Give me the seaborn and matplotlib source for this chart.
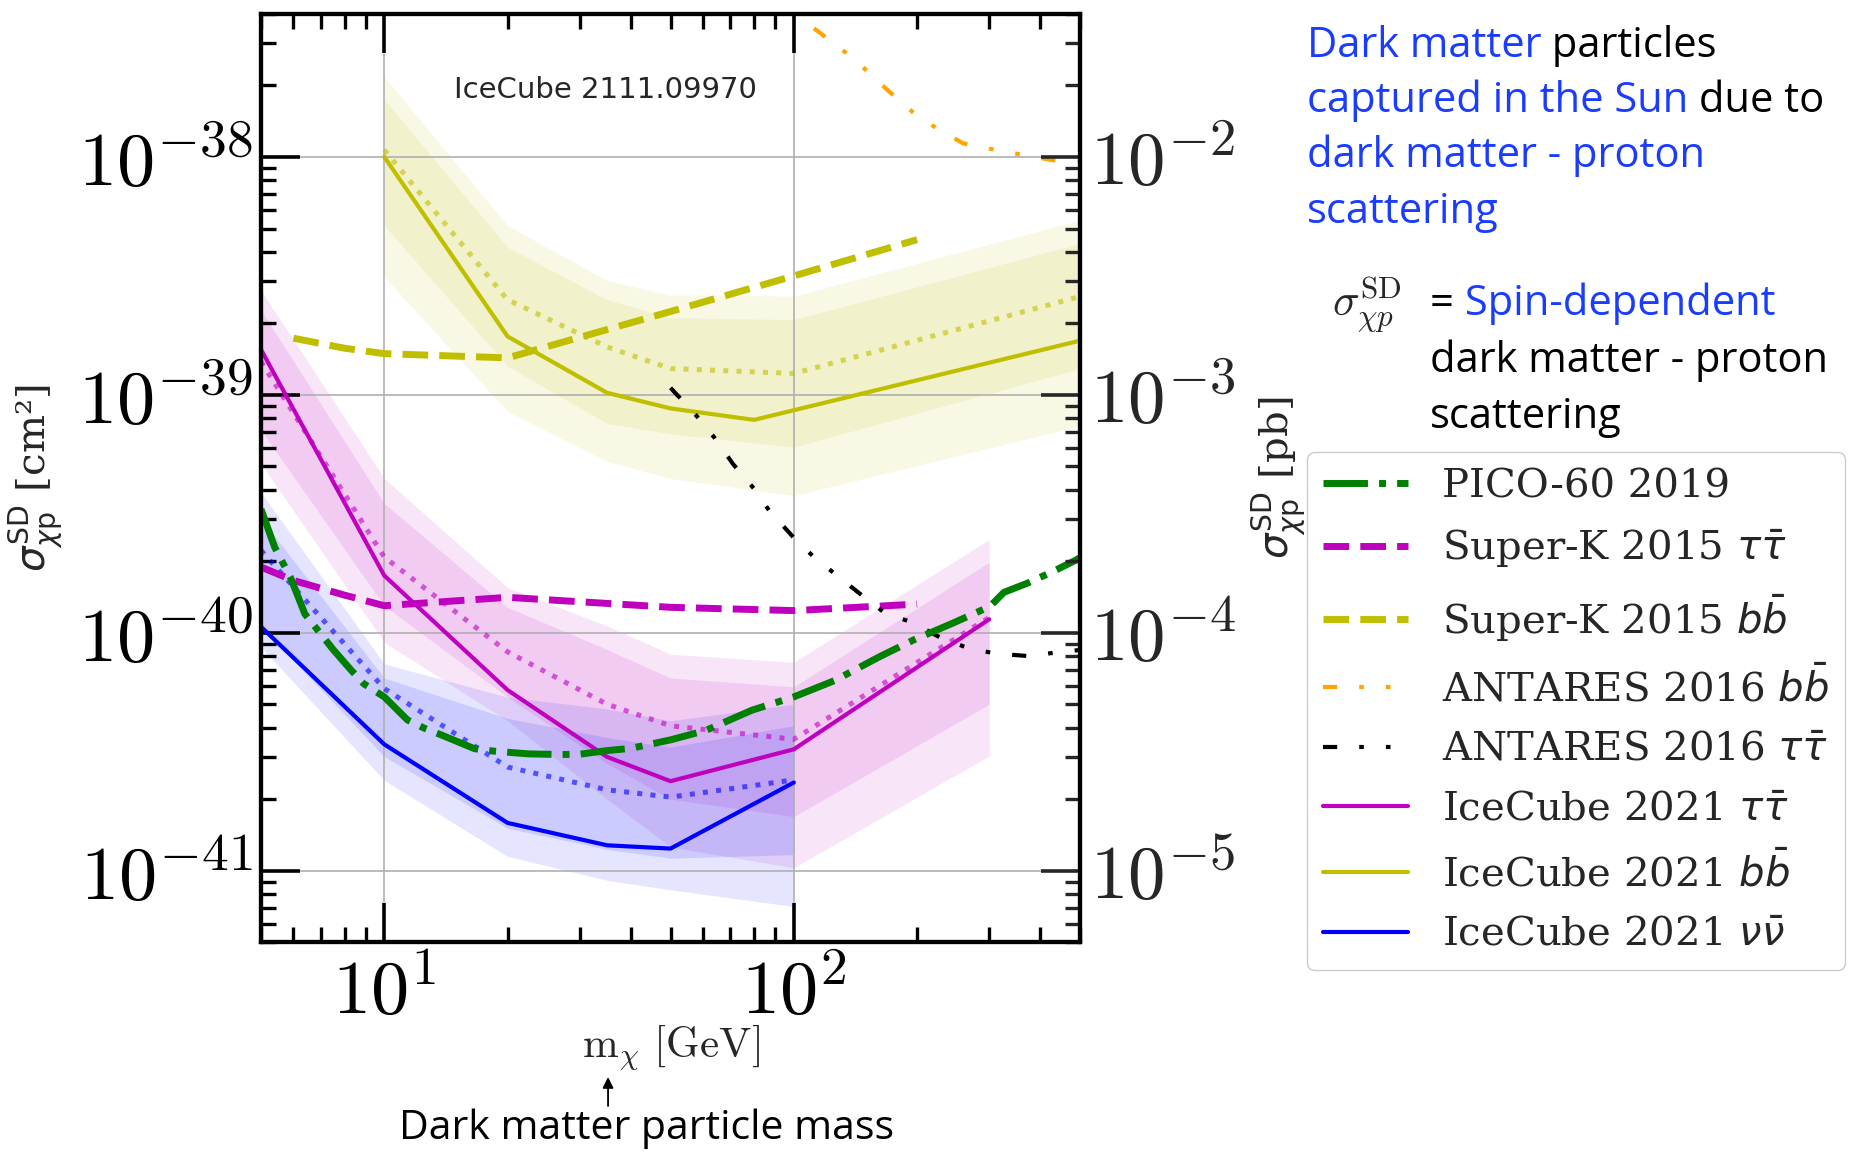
import numpy as np
import matplotlib
matplotlib.use("Agg")
import matplotlib.pyplot as plt
import seaborn as sns
from matplotlib.ticker import FuncFormatter, NullFormatter, FixedLocator

# ---------------- data ----------------
# PICO-60 2019
pico_m = [5.0, 5.4, 5.9, 6.4, 6.9, 7.5, 8.3, 8.9, 10, 11.4, 12.5, 13.8, 16.6, 18.6, 22.5, 27, 30, 35, 40, 50,
          61, 79, 100, 126, 162, 196, 245, 301, 326, 373, 435, 488, 500]
pico_s = [3.31e-40, 2.29e-40, 1.71e-40, 1.20e-40, 1.02e-40, 8.51e-41, 6.97e-41, 6.12e-41, 5.38e-41, 4.30e-41,
          3.98e-41, 3.72e-41, 3.26e-41, 3.18e-41, 3.10e-41, 3.08e-41, 3.09e-41, 3.20e-41, 3.27e-41, 3.55e-41,
          3.89e-41, 4.73e-41, 5.38e-41, 6.31e-41, 7.94e-41, 9.33e-41, 1.10e-40, 1.29e-40, 1.48e-40, 1.62e-40,
          1.83e-40, 2.02e-40, 2.07e-40]
# Super-K 2015
sk_tau_m = [5, 6, 8, 10, 20, 50, 100, 200]
sk_tau_s = [1.89e-40, 1.66e-40, 1.44e-40, 1.30e-40, 1.41e-40, 1.28e-40, 1.24e-40, 1.32e-40]
sk_bb_m = [6, 8, 10, 20, 50, 100, 200]
sk_bb_s = [1.73e-39, 1.57e-39, 1.49e-39, 1.43e-39, 2.24e-39, 3.16e-39, 4.49e-39]
# ANTARES 2016
ant_bb_m = [112, 134, 150, 171, 197, 223, 259, 311, 362, 430, 500]
ant_bb_s = [3.47e-38, 2.74e-38, 2.32e-38, 1.88e-38, 1.52e-38, 1.32e-38, 1.14e-38, 1.07e-38, 1.02e-38,
            9.68e-39, 9.55e-39]
ant_tau_m = [50, 58, 64, 71, 80, 87, 100, 112, 126, 145, 168, 194, 228, 268, 312, 376, 448, 500]
ant_tau_s = [1.07e-39, 8.13e-40, 6.61e-40, 5.13e-40, 4.03e-40, 3.27e-40, 2.51e-40, 2.08e-40, 1.77e-40,
             1.46e-40, 1.20e-40, 1.11e-40, 9.55e-41, 8.59e-41, 8.18e-41, 7.98e-41, 8.32e-41, 8.47e-41]
# IceCube 2021 tau tau
ic_tau_m = [5, 10, 20, 35, 50, 100, 300]
ic_tau_lim = [1.55e-39, 1.74e-40, 5.75e-41, 3.01e-41, 2.38e-41, 3.24e-41, 1.14e-40]
ic_tau_sens = [1.38e-39, 2.08e-40, 8.32e-41, 5.01e-41, 4.07e-41, 3.57e-41, 1.16e-40]
ic_tau_2up = [2.75e-39, 4.45e-40, 1.55e-40, 1.07e-40, 8.13e-41, 7.52e-41, 2.47e-40]
ic_tau_1up = [2.27e-39, 3.49e-40, 1.28e-40, 8.51e-41, 6.46e-41, 5.93e-41, 1.98e-40]
ic_tau_1lo = [7.10e-40, 1.30e-40, 5.37e-41, 2.82e-41, 2.00e-41, 1.69e-41, 5.01e-41]
ic_tau_2lo = [5.14e-40, 9.12e-41, 4.27e-41, 2.00e-41, 1.26e-41, 1.03e-41, 3.04e-41]
# IceCube 2021 b bbar
ic_bb_lim_m = [10, 20, 35, 50, 80, 500]
ic_bb_lim = [1.00e-38, 1.76e-39, 1.02e-39, 8.77e-40, 7.85e-40, 1.69e-39]
ic_bb_m = [10, 20, 35, 50, 100, 500]
ic_bb_sens = [1.07e-38, 2.51e-39, 1.59e-39, 1.29e-39, 1.23e-39, 2.59e-39]
ic_bb_2up = [2.17e-38, 5.15e-39, 3.02e-39, 2.63e-39, 2.60e-39, 5.42e-39]
ic_bb_1up = [1.74e-38, 4.17e-39, 2.51e-39, 2.11e-39, 2.07e-39, 4.33e-39]
ic_bb_1lo = [5.15e-39, 1.32e-39, 7.59e-40, 6.86e-40, 6.03e-40, 1.29e-39]
ic_bb_2lo = [3.13e-39, 8.51e-40, 5.25e-40, 4.45e-40, 3.77e-40, 7.41e-40]
# IceCube 2021 nu nubar
ic_nu_m = [5, 10, 20, 35, 50, 100]
ic_nu_lim = [1.06e-40, 3.40e-41, 1.59e-41, 1.28e-41, 1.24e-41, 2.35e-41]
ic_nu_sens = [2.22e-40, 5.83e-41, 2.73e-41, 2.19e-41, 2.04e-41, 2.41e-41]
ic_nu_2up = [3.89e-40, 7.41e-41, 5.37e-41, 4.79e-41, 4.27e-41, 5.01e-41]
ic_nu_1up = [3.02e-40, 6.46e-41, 4.37e-41, 3.63e-41, 3.31e-41, 4.07e-41]
ic_nu_1lo = [1.07e-40, 3.02e-41, 1.51e-41, 1.23e-41, 1.13e-41, 1.17e-41]
ic_nu_2lo = [8.71e-41, 2.40e-41, 1.15e-41, 9.12e-42, 8.32e-42, 7.08e-42]

legend_labels = ["PICO-60 2019", r"Super-K 2015 $\tau\bar{\tau}$", r"Super-K 2015 $b\bar{b}$",
                 r"ANTARES 2016 $b\bar{b}$", r"ANTARES 2016 $\tau\bar{\tau}$",
                 r"IceCube 2021 $\tau\bar{\tau}$", r"IceCube 2021 $b\bar{b}$", r"IceCube 2021 $\nu\bar{\nu}$"]

x_major = [10, 100]
y_major = [1e-41, 1e-40, 1e-39, 1e-38]

# ---------------- style ----------------
sns.set_style("white")
plt.rcParams["font.family"] = ["DejaVu Serif"]
plt.rcParams["mathtext.fontset"] = "cm"
plt.rcParams["axes.unicode_minus"] = True

BLUE_TXT = "#1a3cff"
COMIC = ["Open Sans", "DejaVu Sans"]
ant_ls = (0, (3.4, 5.3, 1.1, 5.3, 1.1, 5.3))

fig = plt.figure(figsize=(18.51, 11.52), dpi=100)
fig.patch.set_facecolor("white")
ax = fig.add_axes([0.1410, 0.1819, 0.4425, 0.8063])
ax.set_xscale("log")
ax.set_yscale("log")
ax.set_xlim(5, 500)
ax.set_ylim(5e-42, 4e-38)
ax.set_axisbelow("line")

# bands (2 sigma full, 1 sigma on top)
for m, lo2, hi2, lo1, hi1, c in [
    (ic_bb_m, ic_bb_2lo, ic_bb_2up, ic_bb_1lo, ic_bb_1up, "y"),
    (ic_tau_m, ic_tau_2lo, ic_tau_2up, ic_tau_1lo, ic_tau_1up, "m"),
    (ic_nu_m, ic_nu_2lo, ic_nu_2up, ic_nu_1lo, ic_nu_1up, "b"),
]:
    ax.fill_between(m, lo2, hi2, color=c, alpha=0.10, lw=0, zorder=1)
    ax.fill_between(m, lo1, hi1, color=c, alpha=0.11, lw=0, zorder=1)


def line(x, y, color, lw, ls, label=None, alpha=1.0, z=3):
    sns.lineplot(x=x, y=y, ax=ax, color=color, lw=lw, linestyle=ls, label=label,
                 alpha=alpha, zorder=z, legend=False, sort=False)


# sensitivities (dotted)
line(ic_bb_m, ic_bb_sens, "y", 3.6, ":", alpha=0.6, z=2.5)
line(ic_tau_m, ic_tau_sens, "m", 3.6, ":", alpha=0.6, z=2.5)
line(ic_nu_m, ic_nu_sens, "b", 3.6, ":", alpha=0.6, z=2.5)

line(pico_m, pico_s, "g", 5.0, "-.", legend_labels[0], z=4)
line(sk_tau_m, sk_tau_s, "m", 5.0, "--", legend_labels[1], z=3.5)
line(sk_bb_m, sk_bb_s, "y", 5.0, "--", legend_labels[2], z=3.5)
line(ant_bb_m, ant_bb_s, "orange", 3.0, ant_ls, legend_labels[3], z=3.5)
line(ant_tau_m, ant_tau_s, "k", 3.0, ant_ls, legend_labels[4], z=3.5)
line(ic_tau_m, ic_tau_lim, "m", 3.0, "-", legend_labels[5], z=3)
line(ic_bb_lim_m, ic_bb_lim, "y", 3.0, "-", legend_labels[6], z=3)
line(ic_nu_m, ic_nu_lim, "b", 3.0, "-", legend_labels[7], z=3)

ax.set_xlim(5, 500)
ax.set_ylim(5e-42, 4e-38)
ax.grid(True, which="major", color="#b0b0b0", lw=1.2)

fmt = FuncFormatter(lambda v, p: r"$10^{%d}$" % int(round(np.log10(v))))
ax.xaxis.set_major_locator(FixedLocator(x_major))
ax.yaxis.set_major_locator(FixedLocator(y_major))
ax.xaxis.set_major_formatter(fmt)
ax.yaxis.set_major_formatter(fmt)
ax.xaxis.set_minor_formatter(NullFormatter())
ax.yaxis.set_minor_formatter(NullFormatter())
ax.tick_params(axis="both", which="both", direction="in", top=True, bottom=True,
               left=True, right=False, labelsize=55, colors="black")
ax.tick_params(which="major", length=28, width=2.6)
ax.tick_params(which="minor", length=11, width=2.4)
ax.tick_params(axis="x", which="major", pad=10)
ax.tick_params(axis="y", which="major", pad=6)
for s in ax.spines.values():
    s.set_linewidth(3)
    s.set_color("black")

ax2 = ax.twinx()
ax2.set_yscale("log")
lo, hi = ax.get_ylim()
ax2.set_ylim(lo * 1e36, hi * 1e36)
ax2.yaxis.set_major_locator(FixedLocator([v * 1e36 for v in y_major]))
ax2.yaxis.set_major_formatter(fmt)
ax2.yaxis.set_minor_formatter(NullFormatter())
ax2.tick_params(axis="y", which="both", direction="in", right=True, left=False,
                labelright=True, labelleft=False, labelsize=54)
ax2.tick_params(which="major", length=28, width=2.6, pad=7)
ax2.tick_params(which="minor", length=11, width=2.4)
for s in ax2.spines.values():
    s.set_linewidth(3)
    s.set_color("black")

# axis labels
ax.set_xlabel(r"$\mathrm{m}_{\chi}\ [\mathrm{GeV}]$", fontsize=31, va="center")
ax.xaxis.set_label_coords(0.5, -0.1137)
ax.set_ylabel(r"$\sigma_{\chi\mathrm{p}}^{\mathrm{SD}}$ [cm²]", fontsize=29, va="center",
              math_fontfamily="dejavusans")
ax.yaxis.set_label_coords(-0.276, 0.5)
ax2.set_ylabel(r"$\sigma_{\chi\mathrm{p}}^{\mathrm{SD}}$ [pb]", fontsize=29, va="center",
               rotation=90, math_fontfamily="dejavusans")
ax2.yaxis.set_label_coords(1.242, 0.5)

ax.text(0.421, 0.918, "IceCube 2111.09970", transform=ax.transAxes, ha="center", va="center",
        fontsize=21, family="DejaVu Sans", zorder=6)

# legend
handles, labels = ax.get_legend_handles_labels()
order = [labels.index(l) for l in legend_labels]
leg = fig.legend([handles[i] for i in order], [labels[i] for i in order], loc="upper left",
                 bbox_to_anchor=(0.7061, 0.6076), borderaxespad=0,
                 handlelength=2.1, handletextpad=0.85, labelspacing=0.56, frameon=True, fancybox=True,
                 edgecolor="0.8", framealpha=1.0, prop={"family": "DejaVu Serif", "size": 29})
for t in leg.get_texts():
    t.set_math_fontfamily("dejavusans")

# annotations
renderer = fig.canvas.get_renderer()


def colored_line(x, y, parts, size=30):
    for txt, col in parts:
        t = fig.text(x, y, txt, color=col, fontsize=size, family=COMIC, ha="left", va="baseline")
        bb = t.get_window_extent(renderer=renderer)
        x = fig.transFigure.inverted().transform((bb.x1, bb.y0))[0]


colored_line(0.7061, 0.9505, [("Dark matter", BLUE_TXT), (" particles", "black")])
colored_line(0.7061, 0.9028, [("captured in the Sun", BLUE_TXT), (" due to", "black")])
colored_line(0.7061, 0.8550, [("dark matter - proton", BLUE_TXT)])
colored_line(0.7061, 0.8064, [("scattering", BLUE_TXT)])

fig.text(0.7196, 0.7266, r"$\sigma_{\chi p}^{\mathrm{SD}}$", fontsize=32, ha="left", va="baseline",
         math_fontfamily="cm")
colored_line(0.7726, 0.7266, [("=", "black"), (" Spin-dependent", BLUE_TXT)])
colored_line(0.7726, 0.6771, [("dark matter - proton", "black")])
colored_line(0.7726, 0.6285, [("scattering", "black")])

fig.text(0.3495, 0.0113, "Dark matter particle mass", fontsize=29.5, family=COMIC, ha="center",
         va="baseline", color="black")
ax.annotate("", xy=(0.3285, 0.0651), xytext=(0.3285, 0.0400), xycoords="figure fraction",
            textcoords="figure fraction", annotation_clip=False,
            arrowprops=dict(arrowstyle="-|>", color="black", lw=1.3, mutation_scale=16,
                            shrinkA=0, shrinkB=0))

fig.savefig("out.png", dpi=100)
